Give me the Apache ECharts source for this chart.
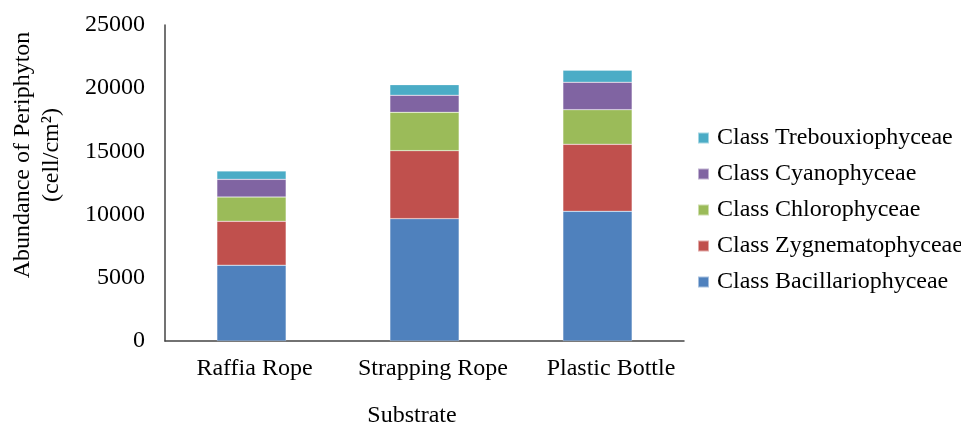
<!DOCTYPE html>
<html><head><meta charset="utf-8">
<script src="https://cdn.jsdelivr.net/npm/echarts@6/dist/echarts.min.js"></script>
<style>html,body{margin:0;padding:0;background:#fff}#c{width:961px;height:428px}</style>
</head><body><div id="c"></div>
<script>
var categories = ['Raffia Rope', 'Strapping Rope', 'Plastic Bottle'];
var seriesNames = ['Class Bacillariophyceae', 'Class Zygnematophyceae', 'Class Chlorophyceae', 'Class Cyanophyceae', 'Class Trebouxiophyceae'];
var bacillariophyceae = [6000, 9680, 10260];
var zygnematophyceae = [3470, 5380, 5300];
var chlorophyceae = [1920, 3030, 2740];
var cyanophyceae = [1400, 1350, 2170];
var trebouxiophyceae = [660, 840, 950];
var yTicks = [0, 5000, 10000, 15000, 20000, 25000];

var values = [bacillariophyceae, zygnematophyceae, chlorophyceae, cyanophyceae, trebouxiophyceae];
var colors = ['#4F81BD', '#C0504D', '#9BBB59', '#8064A2', '#4BACC6'];
var font = '"Liberation Serif", "Times New Roman", serif';
var labelStyle = {fontFamily: font, fontSize: 24, color: '#000'};

var chart = echarts.init(document.getElementById('c'));
chart.setOption({
  animation: false,
  textStyle: {fontFamily: font},
  grid: {left: 165, right: 277, top: 25, bottom: 87},
  legend: {
    orient: 'vertical', left: 697, top: 126, padding: 0,
    itemWidth: 11, itemHeight: 11, itemGap: 12,
    icon: 'rect',
    data: seriesNames.slice().reverse(),
    textStyle: {fontFamily: font, fontSize: 24, color: '#000', padding: [0,0,0,3]}
  },
  xAxis: {
    type: 'category', data: categories,
    axisLine: {lineStyle: {color: '#444', width: 1.5}},
    axisTick: {show: false},
    axisLabel: {fontFamily: font, fontSize: 24, color: '#000', margin: 16, interval: 0,
      formatter: function(v, i){ return '{a' + i + '|' + v + '}'; },
      rich: {
        a0: Object.assign({padding: [0,0,0,6]}, labelStyle),
        a1: Object.assign({padding: [0,0,0,17]}, labelStyle),
        a2: Object.assign({padding: [0,0,0,27]}, labelStyle)
      }}
  },
  yAxis: {
    type: 'value', min: yTicks[0], max: yTicks[yTicks.length-1], interval: 5000,
    axisLine: {show: true, lineStyle: {color: '#444', width: 1.5}},
    axisTick: {show: false},
    splitLine: {show: false},
    axisLabel: {fontFamily: font, fontSize: 24, color: '#000', margin: 20, formatter: function(v){ return String(v); }}
  },
  graphic: [
    {type: 'text', x: 37, y: 155, rotation: Math.PI/2, style: {text: 'Abundance of Periphyton\n(cell/cm²)', font: '24px ' + font, fill: '#000', align: 'center', verticalAlign: 'middle', lineHeight: 29}},
    {type: 'text', x: 412, y: 416, style: {text: 'Substrate', font: '24px ' + font, fill: '#000', align: 'center', verticalAlign: 'middle'}}
  ],
  series: seriesNames.map(function(n, i){
    return {name: n, type: 'bar', stack: 'total', data: values[i], barWidth: '40%',
      itemStyle: {color: colors[i], borderColor: 'rgba(255,255,255,0.5)', borderWidth: 0.5}};
  })
});
</script></body></html>
